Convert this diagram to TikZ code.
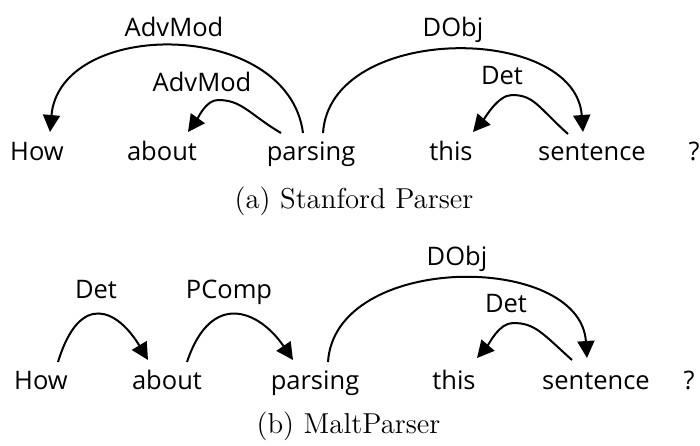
\documentclass[tikz,border=0pt]{standalone}
\usepackage{fontspec}
\newfontfamily\wordfont{Open Sans}
\usetikzlibrary{arrows.meta,calc}
\begin{document}
\begin{tikzpicture}[x=0.5pt,y=-0.5pt,
  word/.style={font=\wordfont\fontsize{12.75}{15}\selectfont, inner sep=0pt, anchor=base},
  captext/.style={font=\fontsize{14.4}{17}\selectfont, inner sep=0pt, anchor=base},
  dep/.style={line width=1pt, -{Triangle[length=8.5pt,width=8.5pt]}}]
\useasboundingbox (0,0) rectangle (700,445);

% (a) Stanford Parser
\node[word] (a1) at (37,160)  {How};
\node[word] (a2) at (162,160) {about};
\node[word] (a3) at (311,160) {parsing};
\node[word] (a4) at (451,160) {this};
\node[word] (a5) at (592,160) {sentence};
\node[word] (a6) at (694,160) {?};

\node[word] (la1) at (174,36) {AdvMod};
\node[word] (la2) at (202,91) {AdvMod};
\node[word] (la3) at (453,36) {DObj};
\node[word] (la4) at (502,84) {Det};

\draw[dep] ($(a3.base)+(-8,-27)$) .. controls +(-15,-115) and +(10,-114) .. ($(a1.base)+(13,-28)$);
\draw[dep] ($(a3.base)+(-30,-27)$) .. controls +(-32,-19) and +(24,0) .. ($(a3.base)+(-93,-60)$)
                                   .. controls +(-12,0) and +(10,-14) .. ($(a2.base)+(26,-28)$);
\draw[dep] ($(a3.base)+(12,-27)$) .. controls +(7,-110) and +(-8,-109) .. ($(a5.base)+(-9,-28)$);
\draw[dep] ($(a5.base)+(-24,-26)$) .. controls +(-30,-27) and +(22,0) .. ($(a5.base)+(-80,-65)$)
                                   .. controls +(-14,0) and +(12,-14) .. ($(a4.base)+(22,-28)$);

\node[captext] (capa) at (354,208) {(a) Stanford Parser};

% (b) MaltParser
\node[word] (b1) at (41,389)  {How};
\node[word] (b2) at (167,389) {about};
\node[word] (b3) at (315,389) {parsing};
\node[word] (b4) at (454,389) {this};
\node[word] (b5) at (596,389) {sentence};
\node[word] (b6) at (689,389) {?};

\node[word] (lb1) at (96,298)  {Det};
\node[word] (lb2) at (229,298) {PComp};
\node[word] (lb3) at (457,265) {DObj};
\node[word] (lb4) at (506,312) {Det};

\draw[dep] ($(b1.base)+(17,-27)$) .. controls +(22,-72) and +(-30,-50) .. ($(b2.base)+(-19,-29)$);
\draw[dep] ($(b2.base)+(20,-27)$) .. controls +(24,-72) and +(-34,-50) .. ($(b3.base)+(-22,-29)$);
\draw[dep] ($(b3.base)+(13,-27)$) .. controls +(7,-110) and +(-7,-106) .. ($(b5.base)+(-9,-31)$);
\draw[dep] ($(b5.base)+(-24,-29)$) .. controls +(-30,-27) and +(22,0) .. ($(b5.base)+(-83,-66)$)
                                   .. controls +(-14,0) and +(12,-14) .. ($(b4.base)+(23,-31)$);

\node[captext] (capb) at (348.5,433) {(b) MaltParser};
\end{tikzpicture}
\end{document}
